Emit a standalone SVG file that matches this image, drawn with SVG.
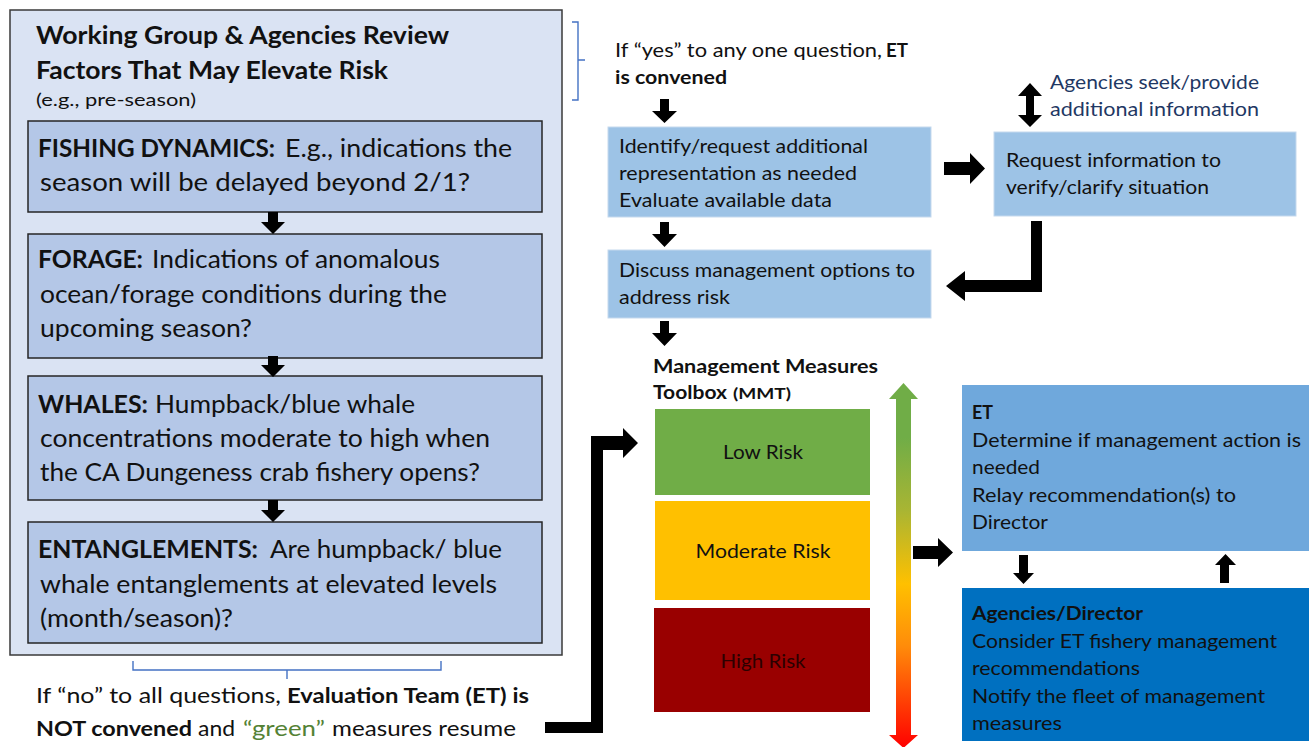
<svg xmlns="http://www.w3.org/2000/svg" width="1309" height="747" viewBox="0 0 1309 747">
<style>
text{font-family:Lato,"Liberation Sans",sans-serif;fill:#111;}
.b{font-weight:bold;}
.t22{font-size:24px;}
.t24{font-size:25px;}
.t19{font-size:19px;}
.t21{font-size:21.5px;}
.outer{fill:#dae3f3;stroke:#3a3a3a;stroke-width:1.5;}
.q{fill:#b4c7e7;stroke:#262626;stroke-width:1.5;}
.lb{fill:#9dc3e6;stroke:#c5d9ee;stroke-width:1;}
.arr{fill:#000;}
.brace{fill:none;stroke:#4472c4;stroke-width:1.4;}
.navy{fill:#1f3864;}
</style>
<defs>
<linearGradient id="grad" x1="0" y1="0" x2="0" y2="1">
<stop offset="0" stop-color="#70ad47"/>
<stop offset="0.15" stop-color="#70ad47"/>
<stop offset="0.35" stop-color="#a9b533"/>
<stop offset="0.55" stop-color="#ffc000"/>
<stop offset="0.72" stop-color="#ff8c0a"/>
<stop offset="1" stop-color="#ff0000"/>
</linearGradient>
</defs>

<g id="review-frame">
<rect class="outer" x="10" y="10" width="552" height="645"/>
<text class="b t22" x="36" y="44" textLength="413" lengthAdjust="spacingAndGlyphs">Working Group &amp; Agencies Review</text>
<text class="b t22" x="36" y="79" textLength="352" lengthAdjust="spacingAndGlyphs">Factors That May Elevate Risk</text>
<text x="36" y="106" font-size="16.5" textLength="160" lengthAdjust="spacingAndGlyphs">(e.g., pre-season)</text>
</g>

<g id="fishing-dynamics">
<rect class="q" x="28" y="121" width="514" height="91"/>
<text class="b t24" x="38" y="157" textLength="237" lengthAdjust="spacingAndGlyphs">FISHING DYNAMICS:</text>
<text class="t24" x="285" y="157" textLength="227" lengthAdjust="spacingAndGlyphs">E.g., indications the</text>
<text class="t24" x="40" y="191" textLength="430" lengthAdjust="spacingAndGlyphs">season will be delayed beyond 2/1?</text>
</g>

<g id="forage">
<rect class="q" x="28" y="234" width="514" height="124"/>
<text class="b t24" x="38" y="268" textLength="105" lengthAdjust="spacingAndGlyphs">FORAGE:</text>
<text class="t24" x="152" y="268" textLength="288" lengthAdjust="spacingAndGlyphs">Indications of anomalous</text>
<text class="t24" x="40" y="303" textLength="407" lengthAdjust="spacingAndGlyphs">ocean/forage conditions during the</text>
<text class="t24" x="40" y="337" textLength="212" lengthAdjust="spacingAndGlyphs">upcoming season?</text>
</g>

<g id="whales">
<rect class="q" x="28" y="376" width="514" height="124"/>
<text class="b t24" x="38" y="413" textLength="110" lengthAdjust="spacingAndGlyphs">WHALES:</text>
<text class="t24" x="155" y="413" textLength="260" lengthAdjust="spacingAndGlyphs">Humpback/blue whale</text>
<text class="t24" x="40" y="447" textLength="450" lengthAdjust="spacingAndGlyphs">concentrations moderate to high when</text>
<text class="t24" x="40" y="481" textLength="440" lengthAdjust="spacingAndGlyphs">the CA Dungeness crab fishery opens?</text>
</g>

<g id="entanglements">
<rect class="q" x="28" y="522" width="514" height="121"/>
<text class="b t24" x="38" y="558" textLength="220" lengthAdjust="spacingAndGlyphs">ENTANGLEMENTS:</text>
<text class="t24" x="270" y="558" textLength="232" lengthAdjust="spacingAndGlyphs">Are humpback/ blue</text>
<text class="t24" x="40" y="593" textLength="457" lengthAdjust="spacingAndGlyphs">whale entanglements at elevated levels</text>
<text class="t24" x="40" y="627" textLength="193" lengthAdjust="spacingAndGlyphs">(month/season)?</text>
</g>

<g id="no-note">
<text class="t21" x="36" y="703" textLength="245" lengthAdjust="spacingAndGlyphs">If “no” to all questions,</text>
<text class="b t21" x="287" y="703" textLength="242" lengthAdjust="spacingAndGlyphs">Evaluation Team (ET) is</text>
<text class="b t21" x="36" y="736" textLength="156" lengthAdjust="spacingAndGlyphs">NOT convened</text>
<text class="t21" x="198" y="736" textLength="37" lengthAdjust="spacingAndGlyphs">and</text>
<text class="t21" x="243" y="736" textLength="82" lengthAdjust="spacingAndGlyphs" style="fill:#548235">“green”</text>
<text class="t21" x="332" y="736" textLength="184" lengthAdjust="spacingAndGlyphs">measures resume</text>
</g>

<g id="yes-note">
<text class="t19" x="615" y="57" textLength="267" lengthAdjust="spacingAndGlyphs">If “yes” to any one question,</text>
<text class="b t19" x="886" y="57" textLength="22" lengthAdjust="spacingAndGlyphs">ET</text>
<text class="b t19" x="615" y="84" textLength="112" lengthAdjust="spacingAndGlyphs">is convened</text>
</g>

<g id="identify">
<rect class="lb" x="608" y="127" width="323" height="90"/>
<text class="t19" x="619" y="153" textLength="249" lengthAdjust="spacingAndGlyphs">Identify/request additional</text>
<text class="t19" x="619" y="180" textLength="238" lengthAdjust="spacingAndGlyphs">representation as needed</text>
<text class="t19" x="619" y="207" textLength="213" lengthAdjust="spacingAndGlyphs">Evaluate available data</text>
</g>

<g id="request-info">
<rect class="lb" x="994" y="132" width="302" height="84"/>
<text class="t19" x="1006" y="167" textLength="215" lengthAdjust="spacingAndGlyphs">Request information to</text>
<text class="t19" x="1006" y="194" textLength="203" lengthAdjust="spacingAndGlyphs">verify/clarify situation</text>
</g>

<g id="agencies-seek">
<text class="t19 navy" x="1050" y="89" textLength="209" lengthAdjust="spacingAndGlyphs">Agencies seek/provide</text>
<text class="t19 navy" x="1050" y="116" textLength="209" lengthAdjust="spacingAndGlyphs">additional information</text>
</g>

<g id="discuss">
<rect class="lb" x="608" y="250" width="323" height="68"/>
<text class="t19" x="619" y="277" textLength="296" lengthAdjust="spacingAndGlyphs">Discuss management options to</text>
<text class="t19" x="619" y="304" textLength="111" lengthAdjust="spacingAndGlyphs">address risk</text>
</g>

<g id="mmt-title">
<text class="b" font-size="18.5" x="653" y="373" textLength="225" lengthAdjust="spacingAndGlyphs">Management Measures</text>
<text class="b" font-size="18.5" x="653" y="399" textLength="74" lengthAdjust="spacingAndGlyphs">Toolbox</text>
<text class="b" font-size="15" x="733" y="399" textLength="58" lengthAdjust="spacingAndGlyphs">(MMT)</text>
</g>

<g id="low-risk">
<rect x="655" y="409" width="215" height="86" fill="#70ad47"/>
<text class="t19" x="763" y="459" text-anchor="middle" textLength="80" lengthAdjust="spacingAndGlyphs">Low Risk</text>
</g>
<g id="moderate-risk">
<rect x="655" y="501" width="215" height="99" fill="#ffc000"/>
<text class="t19" x="763" y="558" text-anchor="middle" textLength="135" lengthAdjust="spacingAndGlyphs">Moderate Risk</text>
</g>
<g id="high-risk">
<rect x="654" y="608" width="216" height="104" fill="#990000"/>
<text class="t19" x="763" y="668" text-anchor="middle" textLength="85" lengthAdjust="spacingAndGlyphs" style="fill:#2b0000">High Risk</text>
</g>

<g id="et">
<rect x="962" y="385" width="347" height="166" fill="#6fa8dc"/>
<text class="b t19" x="972" y="419" textLength="21" lengthAdjust="spacingAndGlyphs">ET</text>
<text class="t19" x="972" y="447" textLength="329" lengthAdjust="spacingAndGlyphs">Determine if management action is</text>
<text class="t19" x="972" y="474" textLength="68" lengthAdjust="spacingAndGlyphs">needed</text>
<text class="t19" x="972" y="502" textLength="264" lengthAdjust="spacingAndGlyphs">Relay recommendation(s) to</text>
<text class="t19" x="972" y="529" textLength="76" lengthAdjust="spacingAndGlyphs">Director</text>
</g>

<g id="agencies-director">
<rect x="962" y="588" width="347" height="153" fill="#0070c0"/>
<text class="b t19" x="972" y="620" textLength="171" lengthAdjust="spacingAndGlyphs">Agencies/Director</text>
<text class="t19" x="972" y="648" textLength="305" lengthAdjust="spacingAndGlyphs">Consider ET fishery management</text>
<text class="t19" x="972" y="675" textLength="168" lengthAdjust="spacingAndGlyphs">recommendations</text>
<text class="t19" x="972" y="703" textLength="293" lengthAdjust="spacingAndGlyphs">Notify the fleet of management</text>
<text class="t19" x="972" y="730" textLength="90" lengthAdjust="spacingAndGlyphs">measures</text>
</g>

<g id="connectors">
<path class="brace" d="M572,22 L578,22 L578,60 L585,60 M578,60 L578,100 L572,100"/>
<path class="brace" d="M133,661 L133,670 L441,670 L441,661 M287,670 L287,679"/>
<polygon class="arr" points="268,212 278,212 278,222 285,222 273,234 261,222 268,222"/>
<polygon class="arr" points="268,356 278,356 278,365 285,365 273,377 261,365 268,365"/>
<polygon class="arr" points="268,500 278,500 278,510 285,510 273,522 261,510 268,510"/>
<polygon class="arr" points="660,99 669,99 669,111 677,111 664.5,123 652,111 660,111"/>
<polygon class="arr" points="660,222 669,222 669,234 677,234 664.5,247 652,234 660,234"/>
<polygon class="arr" points="660,321 669,321 669,333 677,333 664.5,346 652,333 660,333"/>
<polygon class="arr" points="944,162 970,162 970,153 985,168.5 970,184 970,175 944,175"/>
<polygon class="arr" points="1030,83 1042,96 1034,96 1034,115 1042,115 1030,127 1018,115 1026,115 1026,96 1018,96"/>
<polygon class="arr" points="1031,221 1042,221 1042,292 965,292 965,301 946,286 965,271 965,280 1031,280"/>
<polygon class="arr" points="545,722 591,722 591,436 623,436 623,428 638,443 623,458 623,450 603,450 603,733 545,733"/>
<polygon fill="url(#grad)" points="903.5,383 918,399 911,399 911,735 918,735 903.5,748 889,735 896,735 896,399 889,399"/>
<polygon class="arr" points="913,546 938,546 938,538 953,552.5 938,567 938,559 913,559"/>
<polygon class="arr" points="1019,555 1028,555 1028,573 1034,573 1023.5,584 1013,573 1019,573"/>
<polygon class="arr" points="1220,583 1229,583 1229,565 1236,565 1225.5,554 1215,565 1220,565"/>
</g>
</svg>
